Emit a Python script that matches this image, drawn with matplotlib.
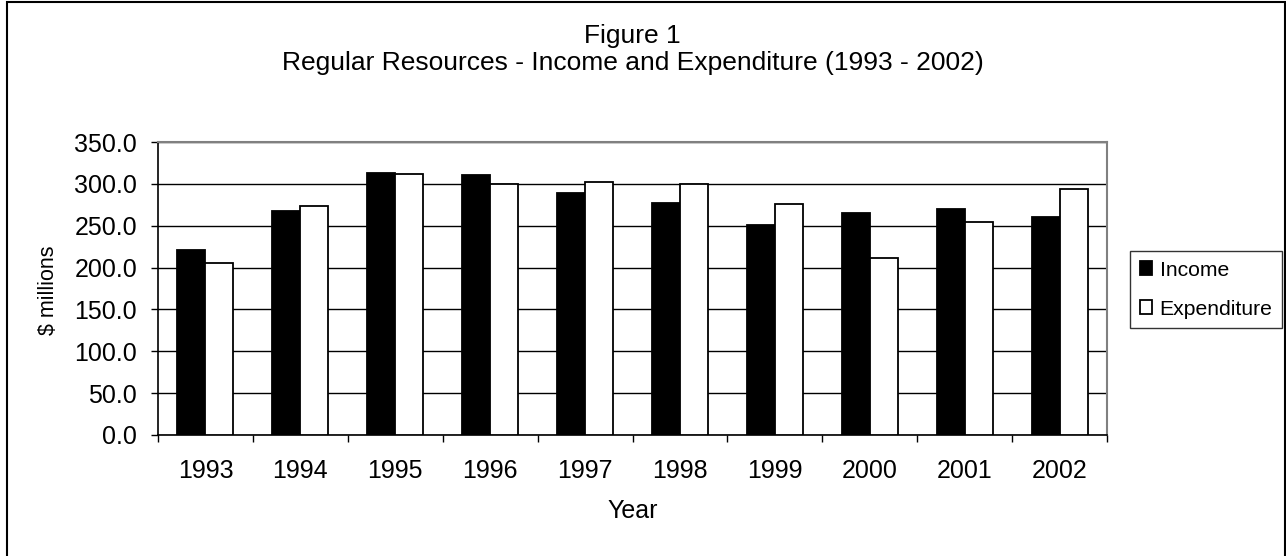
import matplotlib
matplotlib.use("Agg")
import matplotlib.pyplot as plt
import matplotlib.patches as mpatches
import numpy as np

years = ["1993", "1994", "1995", "1996", "1997", "1998", "1999", "2000", "2001", "2002"]
income = [221.5, 267.0, 312.5, 310.0, 288.5, 277.0, 250.5, 265.0, 270.0, 260.0]
expenditure = [205.0, 274.0, 312.0, 300.0, 302.5, 300.0, 276.0, 212.0, 255.0, 293.5]
yticks = [0, 50, 100, 150, 200, 250, 300, 350]

plt.rcParams['font.family'] = ['Liberation Sans', 'DejaVu Sans']
FS = 18
FS_TITLE = 19
FS_LEG = 15.2

W, H = 1286, 556
fig = plt.figure(figsize=(W / 100, H / 100), dpi=100)
ax = fig.add_axes([158 / W, 1 - 435 / H, (1107 - 158) / W, (435 - 142) / H])

x = np.arange(len(years))
w = 0.295
ax.bar(x - w / 2, income, w, color='black', edgecolor='black', linewidth=1.3, label='Income', zorder=3)
ax.bar(x + w / 2, expenditure, w, color='white', edgecolor='black', linewidth=1.3, label='Expenditure', zorder=3)

ax.set_xlim(-0.5, len(years) - 0.5)
ax.set_ylim(0, 350)
ax.set_yticks(yticks)
ax.set_yticklabels([f"{v:.1f}" for v in yticks], fontsize=FS)
ax.yaxis.grid(True, color='black', linewidth=1.0, zorder=0)
ax.set_axisbelow(True)

ax.set_xticks(x)
ax.set_xticklabels(years, fontsize=FS)
ax.tick_params(axis='x', which='major', length=0, pad=17.5)
ax.set_xticks(np.arange(-0.5, len(years)), minor=True)
ax.tick_params(axis='x', which='minor', length=5, width=1, direction='out', color='black')
ax.tick_params(axis='y', length=5, width=1, direction='out', pad=10)

for s in ['top', 'right']:
    ax.spines[s].set_color('#808080')
    ax.spines[s].set_linewidth(1.5)
for s in ['left', 'bottom']:
    ax.spines[s].set_color('black')
    ax.spines[s].set_linewidth(1.2)

cx = 0.5 * (158 + 1107) / W
fig.text(cx, 1 - 36 / H, "Figure 1", ha='center', va='center', fontsize=FS_TITLE)
fig.text(cx, 1 - 63 / H, "Regular Resources - Income and Expenditure (1993 - 2002)",
         ha='center', va='center', fontsize=FS_TITLE)
fig.text(cx, 1 - 511 / H, "Year", ha='center', va='center', fontsize=FS)
fig.text(48 / W, 1 - 290 / H, "$ millions", ha='center', va='center', rotation=90, fontsize=15.5)

leg = fig.legend(loc='upper left', bbox_to_anchor=(1130 / W, 1 - 251 / H), bbox_transform=fig.transFigure,
                 fontsize=FS_LEG, frameon=True, fancybox=False, shadow=False, borderaxespad=0,
                 handlelength=0.6, handleheight=0.6, handletextpad=0.35, labelspacing=0.95,
                 borderpad=0.45)
leg.get_frame().set_edgecolor('black')
leg.get_frame().set_linewidth(1.0)

border = mpatches.Rectangle((7 / W, -0.02), (1285 - 7) / W, 1 - 2 / H + 0.02, transform=fig.transFigure,
                            fill=False, edgecolor='black', linewidth=1.5)
fig.patches.append(border)

fig.savefig("out.png", dpi=100)
